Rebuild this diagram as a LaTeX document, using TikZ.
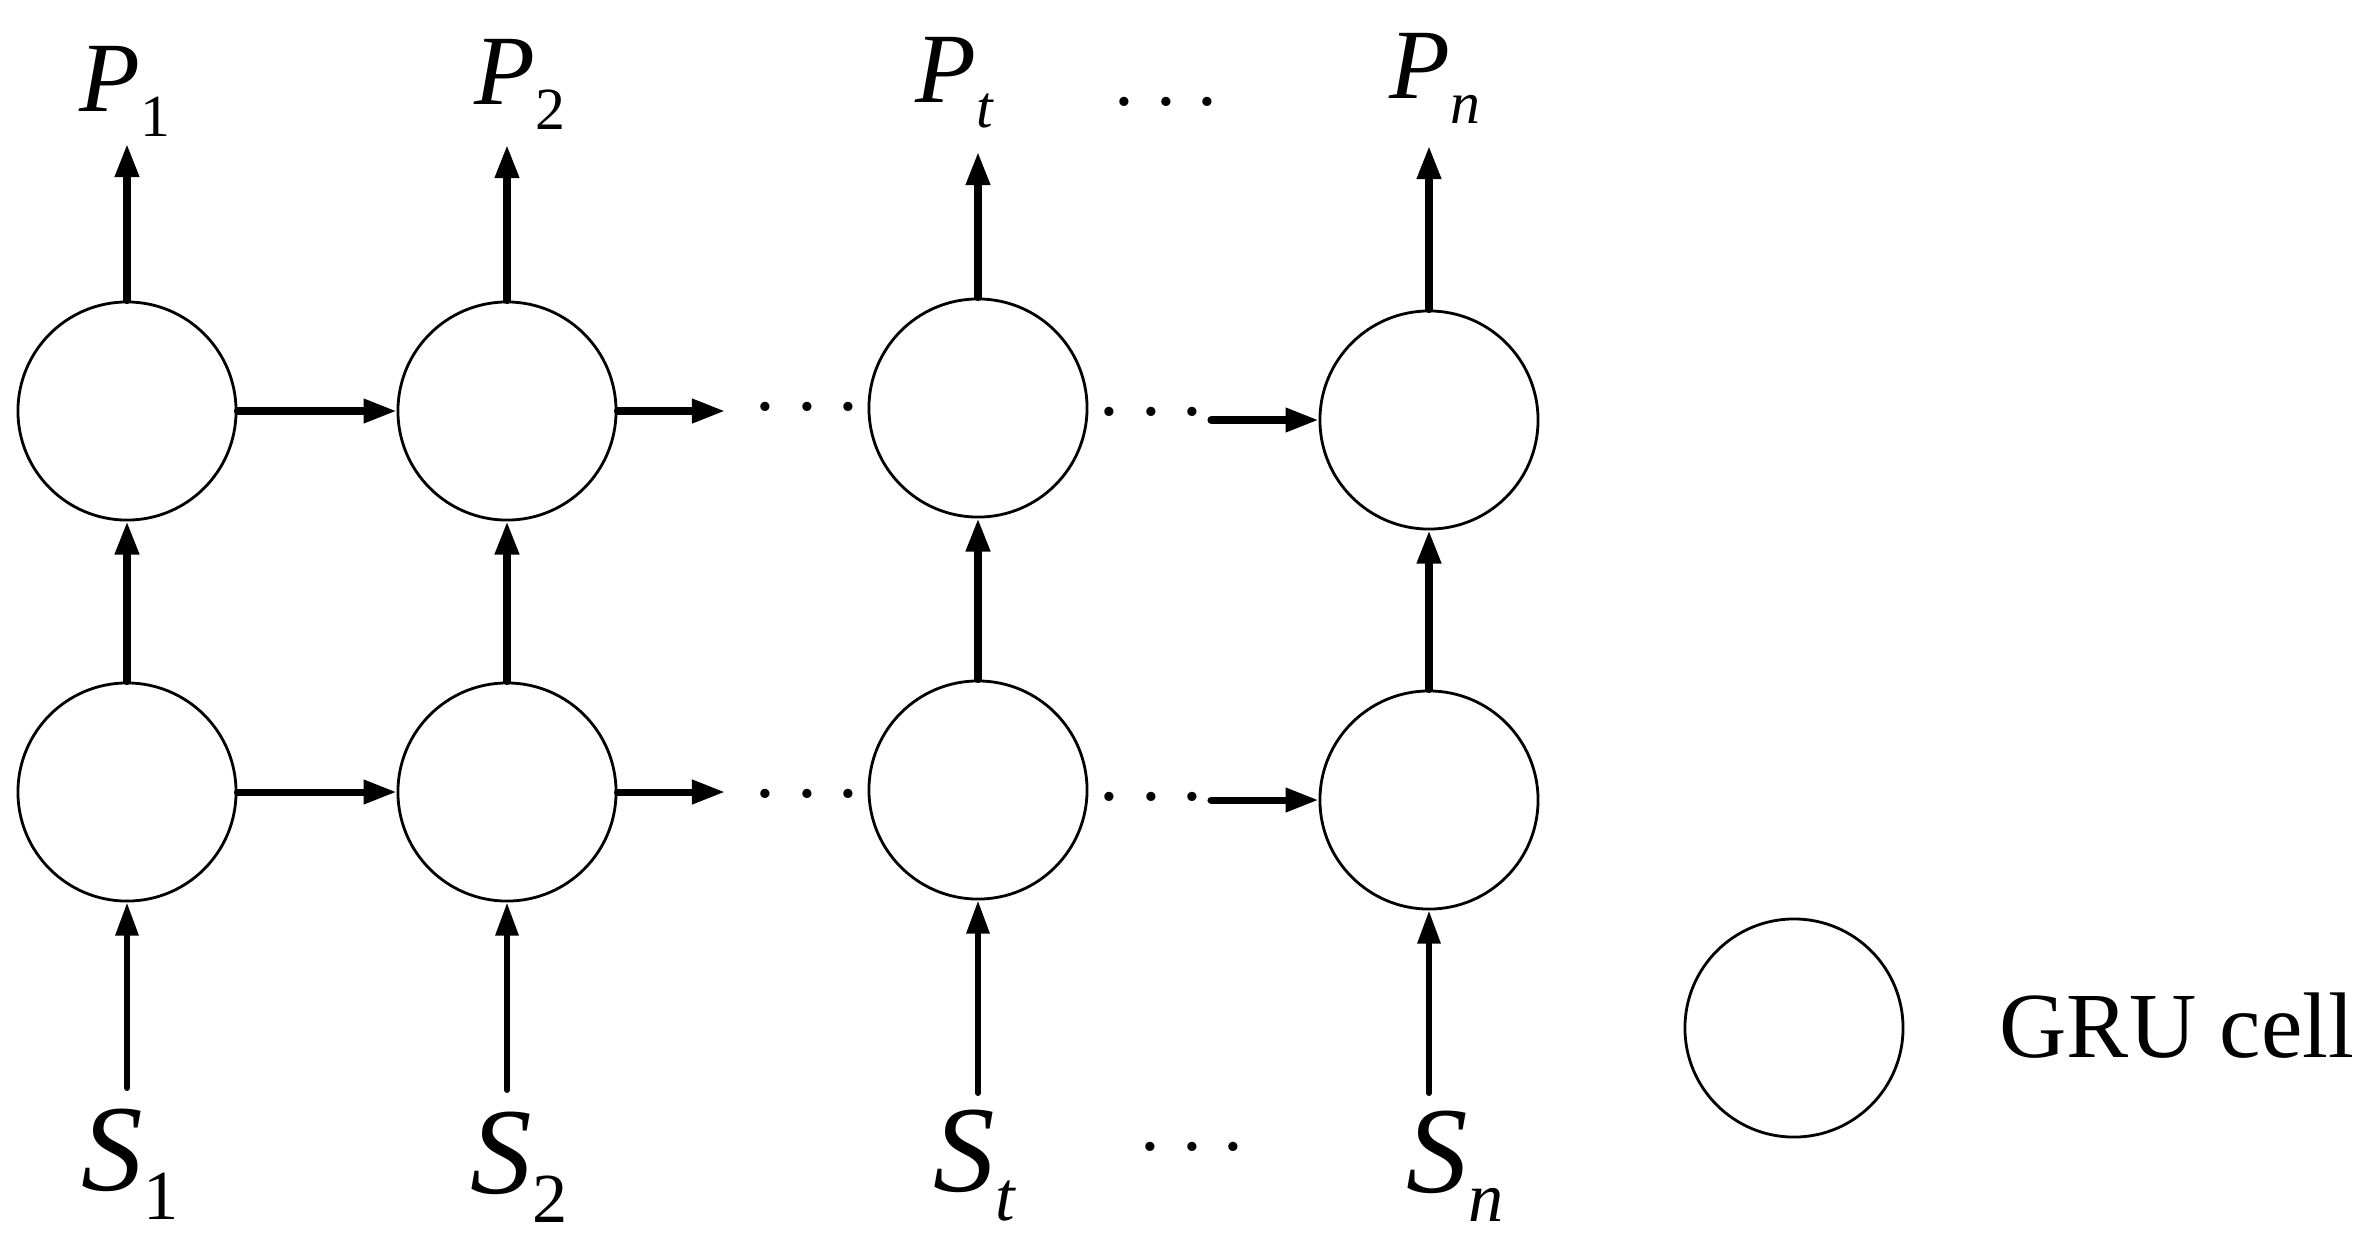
\documentclass[tikz,border=0pt]{standalone}
\usepackage{amsmath}
\usepackage{fontspec}
\setmainfont{Liberation Serif}
\usepackage{tikz}
\usetikzlibrary{arrows.meta}

\newcommand{\seqlab}[4]{{\fontsize{#1}{#1}\selectfont\itshape #3}{\fontsize{#2}{#2}\selectfont\raisebox{-0.42em}{#4}}}
\newcommand{\threedots}{\fontsize{22}{22}\selectfont ·\hspace{0.157cm}·\hspace{0.157cm}·}

\begin{document}
\begin{tikzpicture}[x = 0.01cm, y = -0.01cm,
		cell/.style = {draw, circle, line width = 0.8pt, minimum size = 2.18cm, inner sep = 0pt},
		flow/.style = {line width = 2pt, line cap = round, -{Triangle[length = 0.33cm, width = 0.23cm]}},
		feed/.style = {line width = 1.7pt, line cap = round, -{Triangle[length = 0.33cm, width = 0.22cm]}},
		dotsnode/.style = {anchor = base, inner sep = 0pt},
		seqlabel/.style = {anchor = base west, inner sep = 0pt}]
		
		\useasboundingbox (0, 0) rectangle (2371, 1250);
		
		\node[cell] (t1) at (127, 411) {};
		\node[cell] (t2) at (507, 411) {};
		\node[cell] (t3) at (978, 408) {};
		\node[cell] (t4) at (1429, 420) {};
		
		\node[cell] (b1) at (127, 792) {};
		\node[cell] (b2) at (507, 792) {};
		\node[cell] (b3) at (978, 790) {};
		\node[cell] (b4) at (1429, 800) {};
		
		\node[seqlabel] (p1) at (79, 111) {\seqlab{28.3}{17}{P}{1}};
		\node[seqlabel] (p2) at (474, 104) {\seqlab{28.3}{17}{P}{2}};
		\node[seqlabel] (p3) at (915, 102) {\seqlab{28.3}{17}{P}{\textit{t}}};
		\node[seqlabel] (p4) at (1389, 98) {\seqlab{28.3}{17}{P}{\textit{n}}};
		
		\node[seqlabel] (s1) at (81, 1190) {\seqlab{35}{20}{S}{1}};
		\node[seqlabel] (s2) at (470, 1193) {\seqlab{35}{20}{S}{2}};
		\node[seqlabel] (s3) at (933, 1191) {\seqlab{35}{20}{S}{\textit{t}}};
		\node[seqlabel] (s4) at (1406, 1192) {\seqlab{35}{20}{S}{\textit{n}}};
		
		\coordinate (o1) at (127, 144);
		\coordinate (o2) at (507, 145);
		\coordinate (o3) at (978, 152);
		\coordinate (o4) at (1429, 146);
		
		\coordinate (i1) at (127, 1088);
		\coordinate (i2) at (507, 1090);
		\coordinate (i3) at (978, 1093);
		\coordinate (i4) at (1429, 1093);
		
		\coordinate (ht) at (725, 411);
		\coordinate (hb) at (725, 792);
		\coordinate (gt) at (1211, 420);
		\coordinate (gb) at (1211, 800);
		
		\draw[flow] (t1.north) -- (o1);
		\draw[flow] (t2.north) -- (o2);
		\draw[flow] (t3.north) -- (o3);
		\draw[flow] (t4.north) -- (o4);
		
		\draw[flow] (b1.north) -- (t1.south);
		\draw[flow] (b2.north) -- (t2.south);
		\draw[flow] (b3.north) -- (t3.south);
		\draw[flow] (b4.north) -- (t4.south);
		
		\draw[feed] (i1) -- (b1.south);
		\draw[feed] (i2) -- (b2.south);
		\draw[feed] (i3) -- (b3.south);
		\draw[feed] (i4) -- (b4.south);
		
		\draw[flow] (t1.east) -- (t2.west);
		\draw[flow] (t2.east) -- (ht);
		\draw[flow] (gt) -- (t4.west);
		\draw[flow] (b1.east) -- (b2.west);
		\draw[flow] (b2.east) -- (hb);
		\draw[flow] (gb) -- (b4.west);
		
		\node[dotsnode] (dt1) at (807, 432) {\threedots};
		\node[dotsnode] (dt2) at (1151, 437) {\threedots};
		\node[dotsnode] (db1) at (807, 819) {\threedots};
		\node[dotsnode] (db2) at (1151, 822) {\threedots};
		\node[dotsnode] (dp) at (1166, 127) {\threedots};
		\node[dotsnode] (ds) at (1192, 1172) {\threedots};
		
		% legend
		\node[cell] (legend) at (1794, 1028) {};
		\node[seqlabel, font = \fontsize{26.5}{26.5}\selectfont] (gru) at (1999, 1057) {GRU cell};
	\end{tikzpicture}
\end{document}
